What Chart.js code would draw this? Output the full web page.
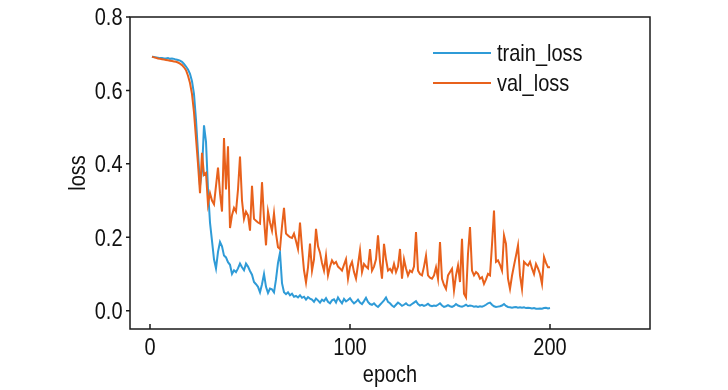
<!DOCTYPE html>
<html>
<head>
<meta charset="utf-8">
<script src="https://cdn.jsdelivr.net/npm/chart.js@4.4.1/dist/chart.umd.min.js"></script>
<style>
  html, body { margin: 0; padding: 0; background: #fff; }
  #wrap { width: 728px; height: 390px; }
</style>
</head>
<body>
<div id="wrap"><canvas id="lossChart" width="728" height="390"></canvas></div>
<script>
// === data ===
const epochs = Array.from({ length: 200 }, (_, i) => i + 1);

const trainLoss = [
  0.692, 0.691, 0.690, 0.689, 0.688, 0.688, 0.687, 0.687, 0.688, 0.686,
  0.687, 0.686, 0.684, 0.683, 0.681, 0.678, 0.672, 0.665, 0.657, 0.645,
  0.625, 0.590, 0.520, 0.430, 0.340, 0.380, 0.505, 0.460, 0.330, 0.240,
  0.190, 0.140, 0.115, 0.160, 0.187, 0.175, 0.150, 0.145, 0.132, 0.125,
  0.100, 0.110, 0.105, 0.115, 0.128, 0.118, 0.110, 0.128, 0.120, 0.108,
  0.098, 0.078, 0.072, 0.065, 0.050, 0.072, 0.100, 0.065, 0.048, 0.060,
  0.058, 0.050, 0.085, 0.130, 0.158, 0.075, 0.050, 0.045, 0.050, 0.042,
  0.046, 0.038, 0.040, 0.036, 0.042, 0.035, 0.038, 0.030, 0.037, 0.033,
  0.030, 0.024, 0.033, 0.028, 0.022, 0.030, 0.026, 0.034, 0.024, 0.020,
  0.028, 0.031, 0.022, 0.036, 0.027, 0.020, 0.032, 0.025, 0.029, 0.034,
  0.026, 0.020, 0.024, 0.030, 0.022, 0.018, 0.026, 0.035, 0.024, 0.018,
  0.016, 0.020, 0.014, 0.010, 0.016, 0.022, 0.028, 0.036, 0.024, 0.020,
  0.014, 0.010, 0.016, 0.022, 0.018, 0.013, 0.016, 0.020, 0.015, 0.014,
  0.018, 0.022, 0.026, 0.018, 0.014, 0.016, 0.013, 0.015, 0.019, 0.014,
  0.012, 0.014, 0.013, 0.016, 0.020, 0.014, 0.010, 0.012, 0.015, 0.012,
  0.010, 0.013, 0.018, 0.014, 0.012, 0.011, 0.013, 0.016, 0.012, 0.014,
  0.013, 0.011, 0.012, 0.010, 0.012, 0.011, 0.013, 0.016, 0.020, 0.022,
  0.016, 0.012, 0.010, 0.011, 0.012, 0.014, 0.018, 0.013, 0.010, 0.009,
  0.008, 0.009, 0.010, 0.008, 0.009, 0.008, 0.009, 0.007, 0.008, 0.007,
  0.006, 0.007, 0.005, 0.005, 0.006, 0.005, 0.007, 0.008, 0.006, 0.007
];

const valLoss = [
  0.692, 0.690, 0.689, 0.687, 0.686, 0.685, 0.684, 0.683, 0.682, 0.681,
  0.680, 0.679, 0.678, 0.676, 0.673, 0.669, 0.663, 0.655, 0.640, 0.620,
  0.590, 0.540, 0.470, 0.400, 0.320, 0.430, 0.370, 0.375, 0.290, 0.320,
  0.300, 0.290, 0.340, 0.390, 0.320, 0.270, 0.470, 0.330, 0.448, 0.225,
  0.260, 0.280, 0.270, 0.330, 0.420, 0.300, 0.250, 0.270, 0.260, 0.218,
  0.340, 0.250, 0.245, 0.240, 0.237, 0.350, 0.250, 0.178, 0.270, 0.240,
  0.218, 0.265, 0.210, 0.173, 0.168, 0.230, 0.280, 0.210, 0.205, 0.200,
  0.198, 0.210, 0.190, 0.168, 0.240, 0.170, 0.110, 0.077, 0.118, 0.183,
  0.109, 0.140, 0.223, 0.175, 0.158, 0.130, 0.109, 0.150, 0.096, 0.120,
  0.137, 0.128, 0.133, 0.120, 0.115, 0.109, 0.125, 0.140, 0.087, 0.120,
  0.133, 0.105, 0.087, 0.125, 0.164, 0.105, 0.127, 0.120, 0.115, 0.168,
  0.109, 0.120, 0.140, 0.205, 0.133, 0.087, 0.182, 0.140, 0.109, 0.114,
  0.105, 0.127, 0.105, 0.120, 0.168, 0.087, 0.140, 0.115, 0.096, 0.109,
  0.105, 0.120, 0.214, 0.109, 0.100, 0.096, 0.120, 0.150, 0.096, 0.090,
  0.087, 0.096, 0.118, 0.087, 0.187, 0.087, 0.070, 0.059, 0.096, 0.105,
  0.114, 0.055, 0.096, 0.123, 0.078, 0.196, 0.046, 0.036, 0.155, 0.228,
  0.109, 0.096, 0.105, 0.100, 0.087, 0.091, 0.073, 0.085, 0.100, 0.096,
  0.180, 0.273, 0.133, 0.137, 0.125, 0.109, 0.205, 0.182, 0.087, 0.059,
  0.095, 0.123, 0.150, 0.178, 0.096, 0.059, 0.133, 0.127, 0.123, 0.133,
  0.115, 0.100, 0.127, 0.115, 0.100, 0.073, 0.146, 0.130, 0.118, 0.118
];

const xTicks = [0, 100, 200];
const yTicks = [0.0, 0.2, 0.4, 0.6, 0.8];
const xTitle = 'epoch';
const yTitle = 'loss';
const seriesNames = ['train_loss', 'val_loss'];
const seriesColors = ['#2f9bd7', '#e8611c'];

const FONT = '20px "Liberation Sans", Arial, sans-serif';
const STRETCH = 1.17; // the reference text is a little taller than plain Arial

// text with a slight vertical stretch, like the reference
function tallText(ctx, text, x, y, align, angle) {
  ctx.save();
  ctx.translate(x, y);
  if (angle) ctx.rotate(angle);
  ctx.scale(1, STRETCH);
  ctx.textAlign = align;
  ctx.textBaseline = 'alphabetic';
  ctx.fillText(text, 0, 0);
  ctx.restore();
}

// box, ticks, tick labels, axis titles, legend
const framePlugin = {
  id: 'frame',
  afterDraw(chart) {
    const { ctx, chartArea: { left, top, right, bottom }, scales: { x, y } } = chart;
    ctx.save();
    ctx.strokeStyle = '#1a1a1a';
    ctx.lineWidth = 1.5;
    ctx.strokeRect(left, top, right - left, bottom - top);
    ctx.beginPath();
    x.ticks.forEach(t => {
      const px = x.getPixelForValue(t.value);
      ctx.moveTo(px, bottom);
      ctx.lineTo(px, bottom - 5);
    });
    y.ticks.forEach(t => {
      const py = y.getPixelForValue(t.value);
      ctx.moveTo(left, py);
      ctx.lineTo(left - 4, py);
    });
    ctx.stroke();

    ctx.font = FONT;
    ctx.fillStyle = '#111';
    x.ticks.forEach(t => {
      tallText(ctx, String(t.value), x.getPixelForValue(t.value), bottom + 26, 'center');
    });
    y.ticks.forEach(t => {
      tallText(ctx, t.value.toFixed(1), left - 7.5, y.getPixelForValue(t.value) + 8.3, 'right');
    });
    tallText(ctx, xTitle, (left + right) / 2, bottom + 52.5, 'center');
    tallText(ctx, yTitle, 85, (top + bottom) / 2, 'center', -Math.PI / 2);

    // legend
    seriesNames.forEach((name, i) => {
      const ly = 53 + i * 30;
      ctx.strokeStyle = seriesColors[i];
      ctx.lineWidth = 2;
      ctx.beginPath();
      ctx.moveTo(433, ly);
      ctx.lineTo(491, ly);
      ctx.stroke();
      tallText(ctx, name, 497, ly + 8, 'left');
    });
    ctx.restore();
  }
};

new Chart(document.getElementById('lossChart'), {
  type: 'line',
  data: {
    datasets: [
      {
        label: seriesNames[0],
        data: trainLoss.map((v, i) => ({ x: epochs[i], y: v })),
        borderColor: seriesColors[0],
        borderWidth: 2,
        pointRadius: 0,
        tension: 0,
        order: 1
      },
      {
        label: seriesNames[1],
        data: valLoss.map((v, i) => ({ x: epochs[i], y: v })),
        borderColor: seriesColors[1],
        borderWidth: 2,
        pointRadius: 0,
        tension: 0,
        order: 0
      }
    ]
  },
  options: {
    responsive: false,
    animation: false,
    devicePixelRatio: 1,
    layout: { padding: { left: 0, right: 78, top: 17, bottom: 0 } },
    plugins: { legend: { display: false }, tooltip: { enabled: false } },
    scales: {
      x: {
        type: 'linear',
        min: -10,
        max: 250,
        afterBuildTicks: s => { s.ticks = xTicks.map(v => ({ value: v })); },
        afterFit: s => { s.height = 61; },
        grid: { display: false, drawTicks: false },
        border: { display: false },
        ticks: { display: false }
      },
      y: {
        min: -0.05,
        max: 0.8,
        afterBuildTicks: s => { s.ticks = yTicks.map(v => ({ value: v })); },
        afterFit: s => { s.width = 130; },
        grid: { display: false, drawTicks: false },
        border: { display: false },
        ticks: { display: false }
      }
    }
  },
  plugins: [framePlugin]
});
</script>
</body>
</html>
